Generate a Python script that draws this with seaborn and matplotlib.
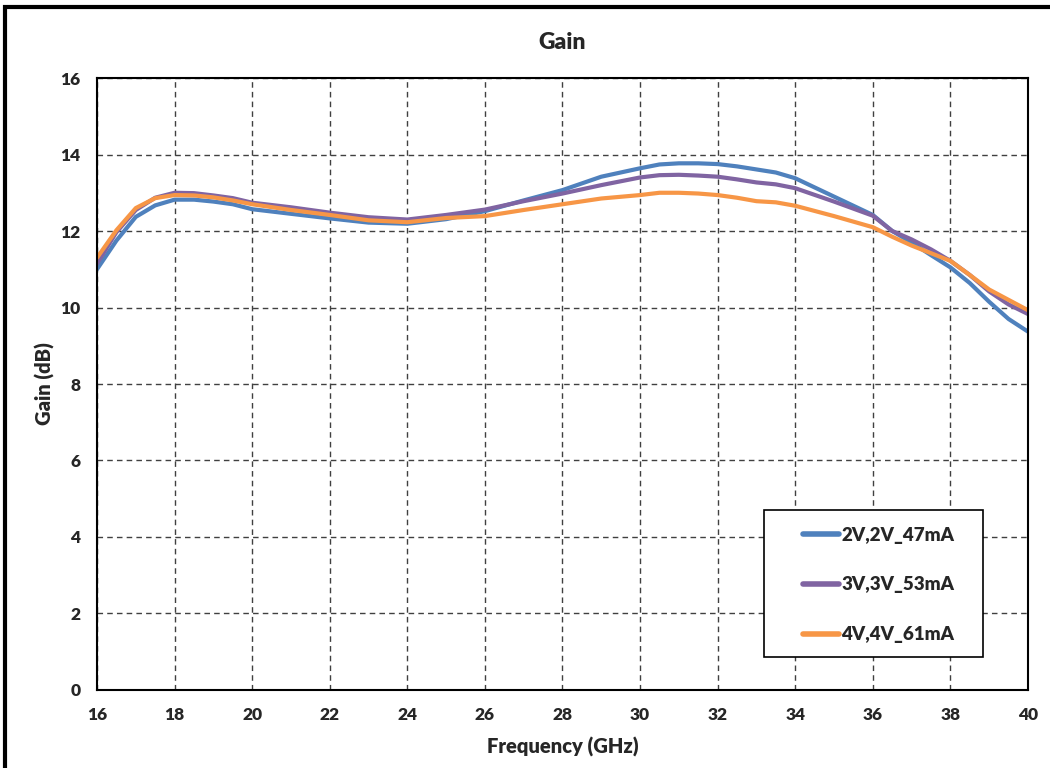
import numpy as np
import pandas as pd
import matplotlib
matplotlib.use('Agg')
import matplotlib.pyplot as plt
import seaborn as sns
from matplotlib.patches import Rectangle

# Frequency points (GHz)
freq = [16, 16.5, 17, 17.5, 18, 18.5, 19, 19.5, 20, 21, 22, 23, 24, 25, 26, 27, 28, 29, 30,
        30.5, 31, 31.5, 32, 32.5, 33, 33.5, 34, 35, 36, 36.5, 37, 37.5, 38, 38.5, 39, 39.5, 40]

gain_2v = [11.0, 11.75, 12.37, 12.67, 12.82, 12.82, 12.77, 12.7, 12.57, 12.45, 12.33, 12.22,
           12.19, 12.31, 12.52, 12.8, 13.07, 13.42, 13.64, 13.74, 13.77, 13.77, 13.75, 13.69,
           13.61, 13.53, 13.38, 12.9, 12.42, 12.0, 11.7, 11.37, 11.05, 10.64, 10.15, 9.7, 9.37]
gain_3v = [11.15, 11.97, 12.55, 12.87, 13.0, 12.99, 12.93, 12.86, 12.74, 12.62, 12.48, 12.36,
           12.3, 12.42, 12.56, 12.78, 12.98, 13.2, 13.4, 13.46, 13.47, 13.45, 13.42, 13.35,
           13.27, 13.22, 13.12, 12.77, 12.4, 12.0, 11.78, 11.52, 11.22, 10.85, 10.42, 10.08, 9.83]
gain_4v = [11.3, 12.02, 12.6, 12.86, 12.94, 12.93, 12.88, 12.8, 12.7, 12.55, 12.42, 12.28,
           12.23, 12.34, 12.39, 12.55, 12.7, 12.85, 12.94, 13.0, 13.0, 12.98, 12.94, 12.87,
           12.78, 12.75, 12.66, 12.39, 12.1, 11.85, 11.62, 11.42, 11.22, 10.85, 10.47, 10.2, 9.93]

labels = ['2V,2V_47mA', '3V,3V_53mA', '4V,4V_61mA']
colors = ['#4F81BD', '#8064A2', '#F79646']

x_ticks = list(range(16, 41, 2))
y_ticks = list(range(0, 17, 2))

df = pd.DataFrame({
    'freq': freq * 3,
    'gain': gain_2v + gain_3v + gain_4v,
    'bias': [labels[0]] * len(freq) + [labels[1]] * len(freq) + [labels[2]] * len(freq),
})

sns.set_style('white')
plt.rcParams['font.family'] = ['Lato', 'DejaVu Sans']

fig = plt.figure(figsize=(10.5, 7.68), dpi=100)
ax = fig.add_axes([0.0924, 0.1016, 0.8866, 0.7968])

sns.lineplot(data=df, x='freq', y='gain', hue='bias', hue_order=labels,
             palette=colors, linewidth=3, ax=ax)

ax.set_xlim(16, 40)
ax.set_ylim(0, 16)
ax.set_xticks(x_ticks)
ax.set_yticks(y_ticks)
ax.tick_params(axis='both', labelsize=12.5, length=0, pad=12)
for t in ax.get_xticklabels() + ax.get_yticklabels():
    t.set_fontweight('heavy')

ax.grid(True, linestyle=(0, (4, 3)), color='#404040', linewidth=1)
for s in ax.spines.values():
    s.set_color('black')
    s.set_linewidth(1.5)

ax.set_xlabel('Frequency (GHz)', fontsize=14.5, fontweight='heavy', labelpad=10)
ax.set_ylabel('Gain (dB)', fontsize=14.5, fontweight='heavy', labelpad=4)
fig.text(0.535, 0.945, 'Gain', ha='center', va='center', fontsize=16.5, fontweight='heavy')

# legend box drawn separately, legend entries without frame
ax.add_patch(Rectangle((0.7165, 0.0539), 0.2352, 0.2402, transform=ax.transAxes,
                       facecolor='white', edgecolor='black', linewidth=1.2, zorder=5))
leg = ax.legend(loc='center left', bbox_to_anchor=(0.7583, 0.1716), frameon=False,
                fontsize=13.5, handlelength=1.9, labelspacing=1.75, borderpad=0,
                borderaxespad=0, handletextpad=0.15)
leg.set_zorder(6)
for t in leg.get_texts():
    t.set_fontweight('heavy')
for line in leg.get_lines():
    line.set_linewidth(4)

# outer chart border
fig.patches.append(Rectangle((0.0045, -0.05), 1.2, 1.05 - 0.0085, transform=fig.transFigure,
                             fill=False, edgecolor='black', linewidth=3, clip_on=False))

fig.savefig('out.png', dpi=100)
